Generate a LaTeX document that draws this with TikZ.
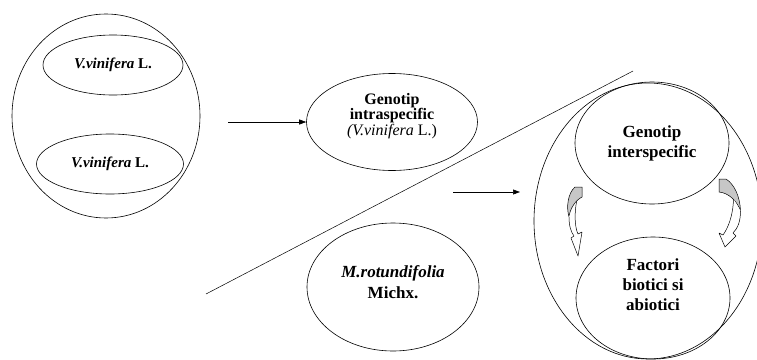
\documentclass[tikz,border=0pt]{standalone}
\usepackage{fontspec}
\setmainfont{Liberation Serif}
\usetikzlibrary{arrows.meta,shapes.geometric}

\tikzset{
  oval/.style={ellipse,draw,line width=0.6pt,inner sep=0pt},
  lbl/.style={align=center,font=\bfseries\fontsize{17}{20}\selectfont},
  flow/.style={line width=0.6pt,-{Triangle[length=7pt,width=5pt]}},
  curvarrow/.style={line width=0.5pt,line join=round},
}

\begin{document}
\begin{tikzpicture}[x=1pt,y=-1pt]
  \useasboundingbox (0,0) rectangle (757,359);

  % parents
  \node[oval,minimum width=188,minimum height=204] (parents) at (106,116) {};
  \node[oval,minimum width=140,minimum height=60,font=\bfseries\fontsize{15}{17}\selectfont]
    (vv1) at (113,65) {\textit{V.vinifera} L.};
  \node[oval,minimum width=147,minimum height=60,font=\bfseries\fontsize{15}{17}\selectfont]
    (vv2) at (110,164) {\textit{V.vinifera} L.};

  % intraspecific cross
  \node[oval,minimum width=171,minimum height=97] (intra) at (392,122) {};
  \node[align=center,font=\fontsize{16}{14}\selectfont] at ([yshift=6pt]intra.center)
    {\textbf{Genotip}\\\textbf{intraspecific}\\\textit{(V.vinifera} L.)};
  \coordinate (a1s) at (228,122);
  \draw[flow] (a1s) -- (intra.west);

  % muscadine parent
  \node[oval,minimum width=172,minimum height=128] (mrot) at (393,287) {};
  \node[lbl,font=\bfseries\fontsize{17}{21}\selectfont] at ([yshift=5pt]mrot.center)
    {\textit{M.rotundifolia}\\Michx.};

  % dividing line
  \coordinate (d1) at (206,294);
  \coordinate (d2) at (633,71);
  \draw[line width=0.5pt] (d1) -- (d2);

  % second arrow
  \coordinate (a2s) at (453,192);
  \coordinate (a2e) at (520,192);
  \draw[flow] (a2s) -- (a2e);

  % interspecific genotype and environment
  \node[oval,minimum width=228,minimum height=276] (outer) at (648,221) {};
  \node[oval,minimum width=154,minimum height=122] (inter) at (652,143) {};
  \node[lbl] at (inter.center) {Genotip\\interspecific};
  \node[oval,minimum width=154,minimum height=122] (factori) at (653,298) {};
  \node[lbl] at ([yshift=13pt]factori.center) {Factori\\biotici si\\abiotici};

  % curved arrows
  \filldraw[curvarrow,fill=black!22] (575,187) -- (582,187) -- (582,197)
    .. controls (576,200) and (570,208) .. (569,217)
    .. controls (566,207) and (568,193) .. (575,187) -- cycle;
  \filldraw[curvarrow,fill=white] (569,217)
    .. controls (569,226) and (571,232) .. (574,236) -- (571,238) -- (578,256)
    -- (582,232) -- (578,234)
    .. controls (575,228) and (574,214) .. (576.7,201);
  \filldraw[curvarrow,fill=black!22] (719,179) -- (726,179)
    .. controls (734,184) and (740,196) .. (740.5,211)
    .. controls (737,201) and (729,193) .. (719,192) -- cycle;
  \filldraw[curvarrow,fill=white] (740.5,211)
    .. controls (740.5,221) and (738,228) .. (733,233) -- (736,236) -- (725,247)
    -- (719,233) -- (723,235)
    .. controls (728,228) and (733,216) .. (733.5,199);
\end{tikzpicture}
\end{document}
